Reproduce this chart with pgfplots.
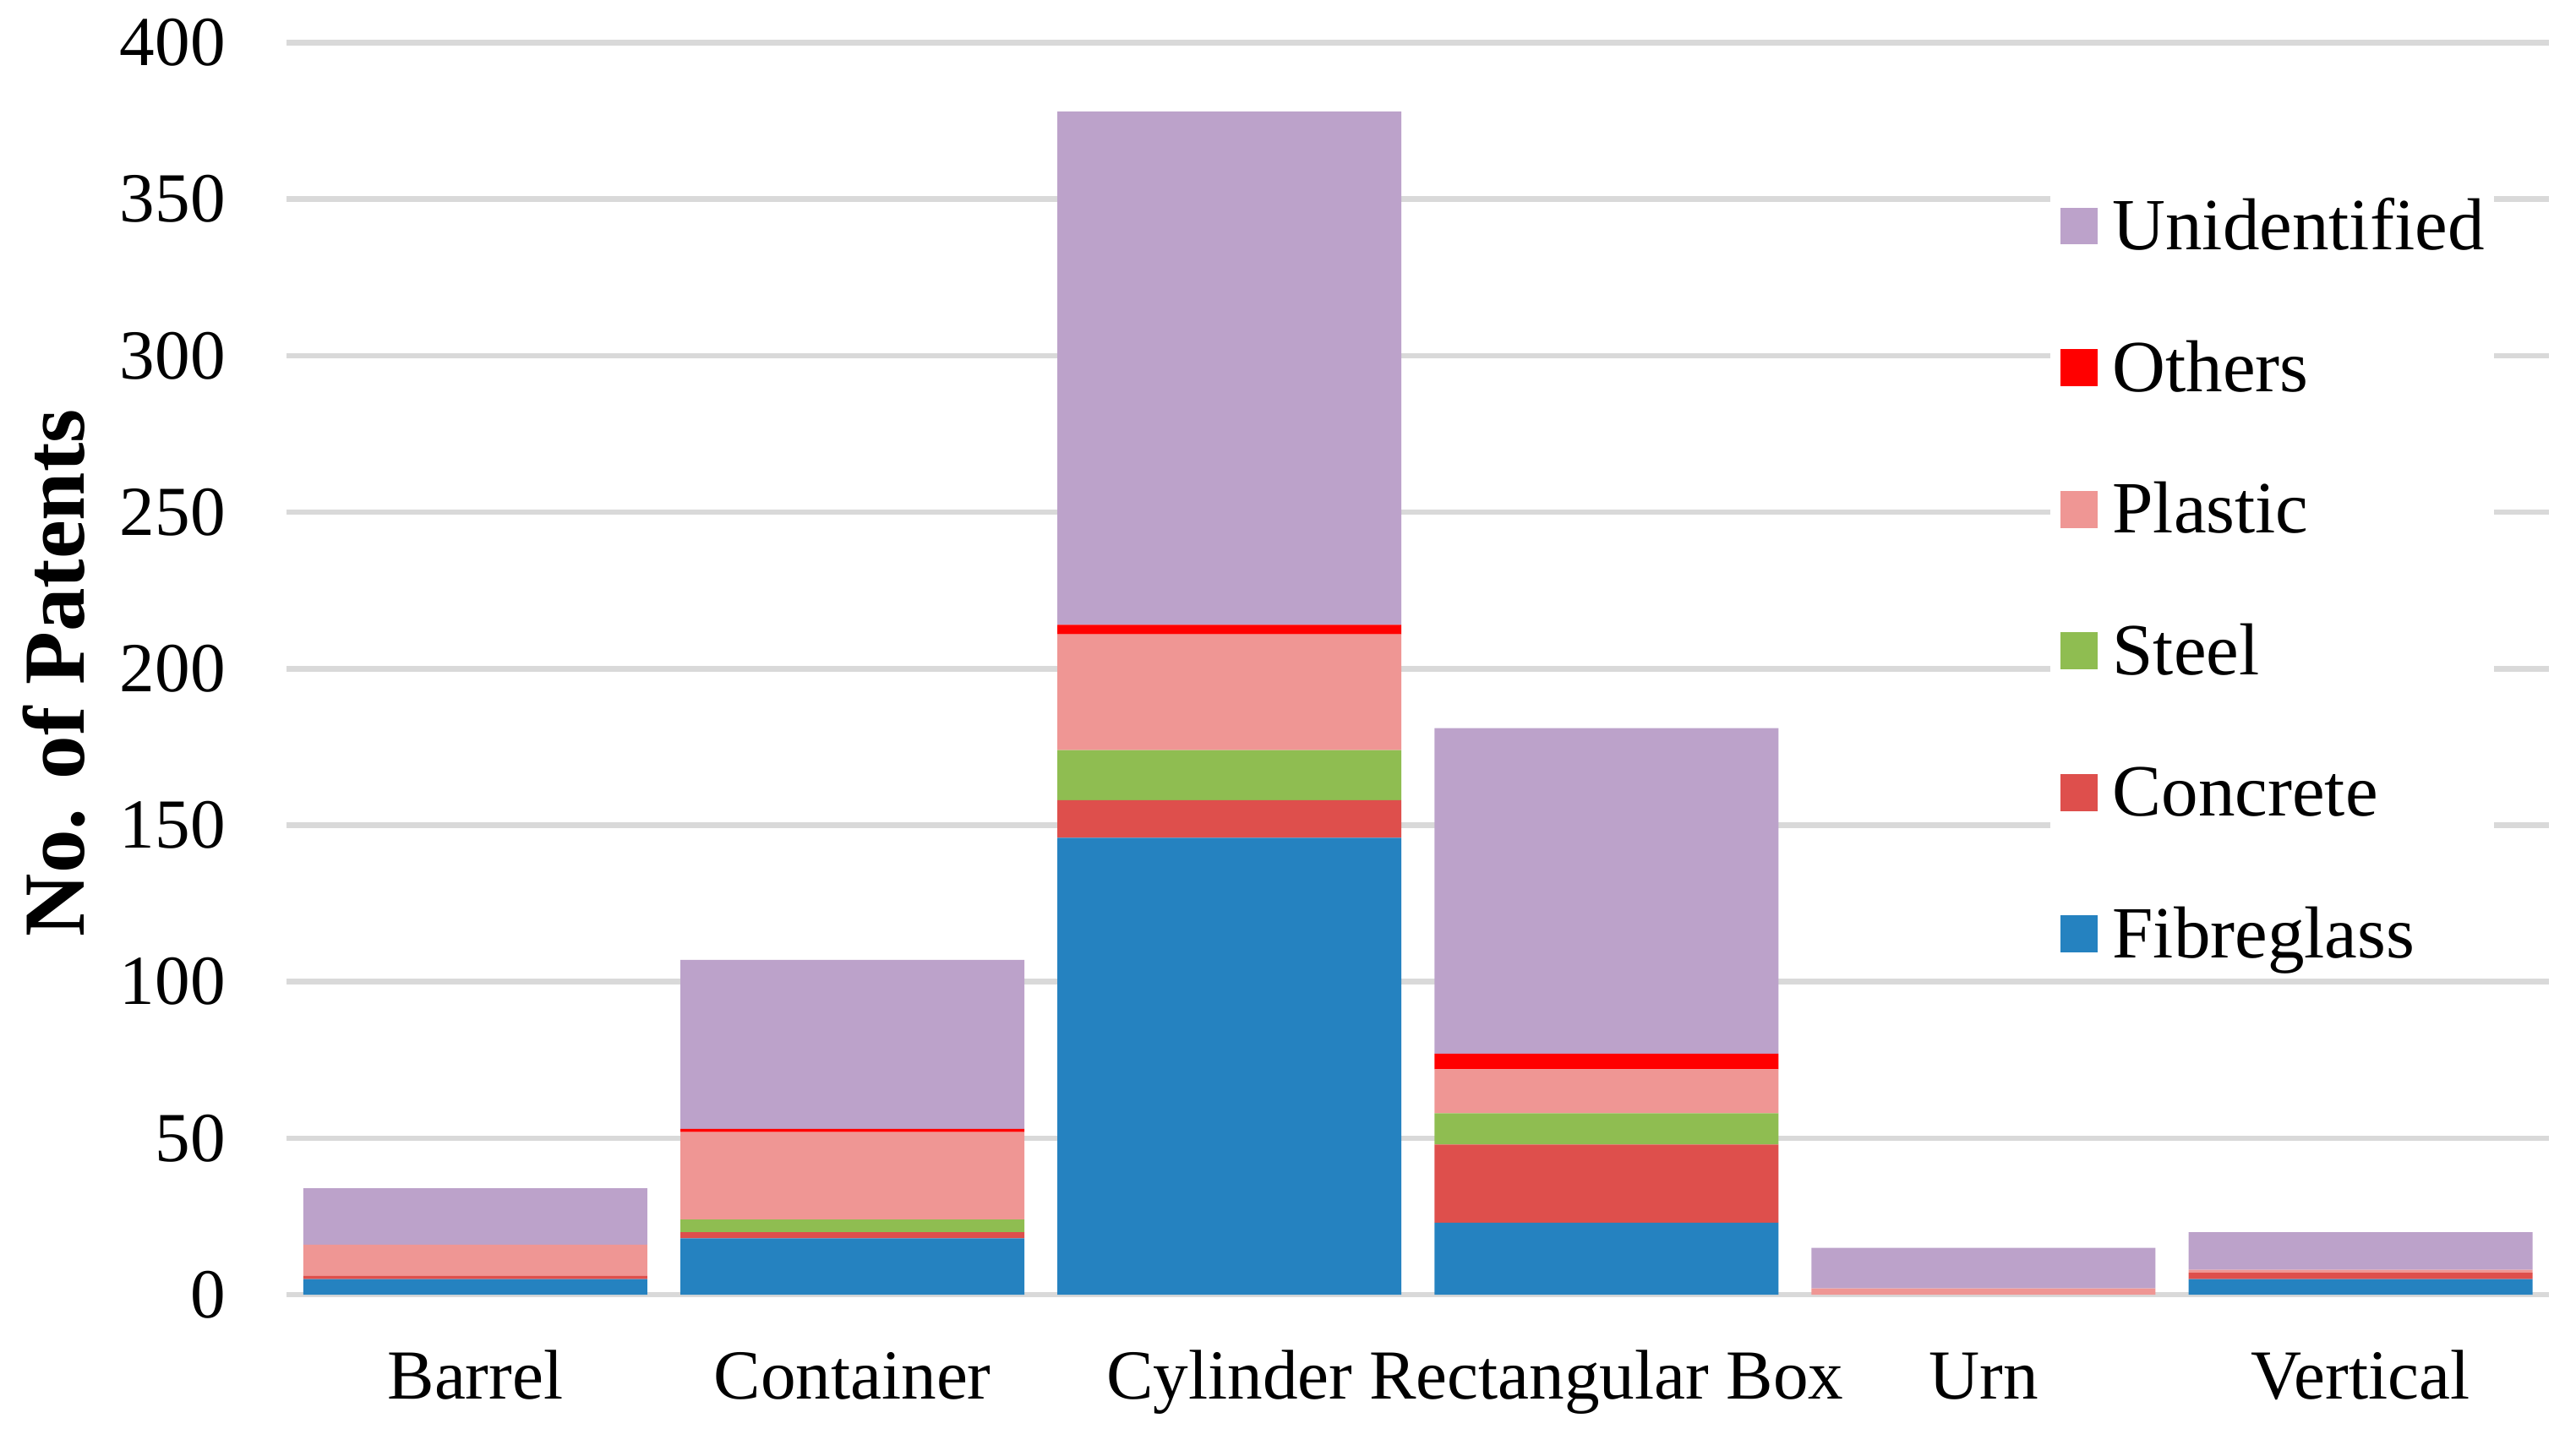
\documentclass[border=0pt]{standalone}
\usepackage{pgfplots}
\pgfplotsset{compat=1.18}
\usepackage{pgfplotstable}
\usepackage{fontspec}
\setmainfont{Liberation Serif}

\definecolor{fib}{HTML}{2582C0}
\definecolor{conc}{HTML}{DE4F4C}
\definecolor{steel}{HTML}{8FBD51}
\definecolor{plas}{HTML}{EF9694}
\definecolor{oth}{HTML}{FF0000}
\definecolor{unid}{HTML}{BCA2CA}
\definecolor{gridgray}{HTML}{D9D9D9}

% patents per shape (x) and material
\pgfplotstableread{
x Fib Conc Steel Plas Oth Unid
0 5   1  0  10 0 18
1 18  2  4  28 1 54
2 146 12 16 37 3 164
3 23  25 10 14 5 104
4 0   0  0  2  0 13
5 5   2  0  1  0 12
}\patents

\begin{document}
\begin{tikzpicture}
\begin{axis}[
    scale only axis,
    width=688.5pt, height=381.1pt,
    ybar stacked, bar width=104.7pt,
    xmin=-0.5, xmax=5.5,
    ymin=0, ymax=400,
    xtick={0,1,2,3,4,5},
    xticklabels={Barrel,Container,Cylinder,Rectangular Box,Urn,Vertical},
    ytick={0,50,...,400},
    ymajorgrids=true,
    grid style={line width=1.72pt, color=gridgray},
    axis line style={draw=none},
    major tick length=0pt,
    tick label style={font=\fontsize{21.4}{25}\selectfont},
    /pgf/number format/assume math mode=true,
    yticklabel style={inner sep=0pt, anchor=east, xshift=-18.5pt},
    xticklabel style={inner sep=0pt, anchor=base, yshift=-31.7pt},
    ylabel={No. of Patents},
    ylabel style={font=\fontsize{26.5}{30}\selectfont\bfseries,
        at={(axis description cs:-0.1028,0.4966)}, anchor=center},
    legend style={at={(axis description cs:0.7792,0.881)}, anchor=north west,
        draw=none, fill=white, inner sep=3pt,
        font=\fontsize{22.4}{26}\selectfont, row sep=28.6pt,
        nodes={inner sep=0pt, text height=14.5pt, text depth=0pt},
        cells={anchor=west}},
    legend image code/.code={\fill[#1] (0pt,-5.65pt) rectangle (11.3pt,5.65pt);},
    legend cell align=left,
    reverse legend,
]
\addplot[fill=fib, draw=none] table[x=x, y=Fib] {\patents};
\addplot[fill=conc, draw=none] table[x=x, y=Conc] {\patents};
\addplot[fill=steel, draw=none] table[x=x, y=Steel] {\patents};
\addplot[fill=plas, draw=none] table[x=x, y=Plas] {\patents};
\addplot[fill=oth, draw=none] table[x=x, y=Oth] {\patents};
\addplot[fill=unid, draw=none] table[x=x, y=Unid] {\patents};
\legend{\hspace{4.6pt}Fibreglass,\hspace{4.6pt}Concrete,\hspace{4.6pt}Steel,\hspace{4.6pt}Plastic,\hspace{4.6pt}Others,\hspace{4.6pt}Unidentified}
\end{axis}
\pgfresetboundingbox
\path[use as bounding box] ([shift={(-87.3pt,-40.8pt)}]current axis.south west)
    rectangle ([shift={(8.2pt,13pt)}]current axis.north east);
\end{tikzpicture}
\end{document}
